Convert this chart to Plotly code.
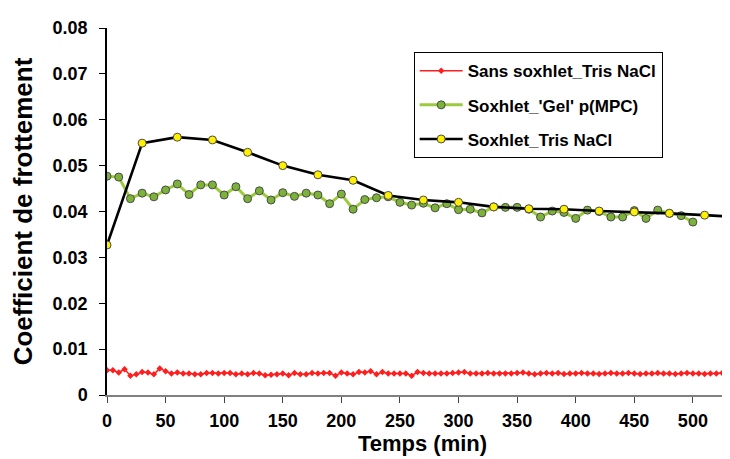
import plotly.graph_objects as go

# ---------------- data ----------------
# Sans soxhlet_Tris NaCl : every 5 min, 0..540
red_t = list(range(0, 545, 5))
red_v = [
    0.0054, 0.0054, 0.0049, 0.0056, 0.0042, 0.0045, 0.0050, 0.0049, 0.0045, 0.0058,  # 0-45
    0.0052, 0.0047, 0.0049, 0.0047, 0.0047, 0.00455, 0.00455, 0.0048, 0.0048, 0.0047,  # 50-95
    0.0048, 0.0048, 0.00455, 0.0047, 0.00455, 0.0048, 0.0047, 0.0043, 0.0044, 0.00455,  # 100-145
    0.0047, 0.0043, 0.0048, 0.00455, 0.00455, 0.0048, 0.0047, 0.0048, 0.0048, 0.0042,  # 150-195
    0.0049, 0.0047, 0.0045, 0.0050, 0.0049, 0.0052, 0.0045, 0.0050, 0.0047, 0.0047,  # 200-245
    0.0047, 0.0047, 0.0042, 0.0050, 0.0048, 0.0047, 0.0047, 0.0047, 0.0047, 0.0048,  # 250-295
    0.0049, 0.0050, 0.0047, 0.0047, 0.0047, 0.0048, 0.0047, 0.0047, 0.0047, 0.0047,  # 300-345
    0.0048, 0.0049, 0.0047, 0.00455, 0.0047, 0.0048, 0.0047, 0.0048, 0.0046, 0.0047,  # 350-395
    0.0047, 0.0048, 0.0047, 0.0047, 0.0046, 0.0047, 0.0048, 0.0047, 0.0047, 0.0048,  # 400-445
    0.0047, 0.0046, 0.0047, 0.0047, 0.0048, 0.0047, 0.0047, 0.0046, 0.0047, 0.0048,  # 450-495
    0.0047, 0.0047, 0.0046, 0.0047, 0.0047, 0.0048, 0.0047, 0.0046, 0.0047, 0.0047,  # 500-545
][:len(red_t)]

# Soxhlet_'Gel' p(MPC) : every 10 min, 0..500
green_t = list(range(0, 510, 10))
green_v = [
    0.0477, 0.0475, 0.0428, 0.0440, 0.0432, 0.0447, 0.0460, 0.0437, 0.0458, 0.0458,  # 0-90
    0.0436, 0.0454, 0.0428, 0.0445, 0.0425, 0.0441, 0.0433, 0.0440, 0.0436, 0.0417,  # 100-190
    0.0438, 0.0405, 0.0426, 0.0430, 0.0432, 0.0420, 0.0414, 0.0418, 0.0408, 0.0417,  # 200-290
    0.0404, 0.0405, 0.0397, 0.0410, 0.0409, 0.0409, 0.0405, 0.0388, 0.0401, 0.0398,  # 300-390
    0.0385, 0.0403, 0.0400, 0.0388, 0.0388, 0.0402, 0.0385, 0.0403, 0.0396, 0.0391,  # 400-490
    0.0377,                                                                          # 500
]

# Soxhlet_Tris NaCl : every 30 min, 0..540
yellow_t = list(range(0, 570, 30))
yellow_v = [
    0.0327, 0.0549, 0.0562, 0.0556, 0.0529, 0.0500, 0.0480, 0.0468, 0.0435, 0.0425,
    0.0420, 0.0410, 0.0406, 0.0405, 0.0401, 0.0399, 0.0396, 0.0392, 0.0388,
]

x_ticks = [0, 50, 100, 150, 200, 250, 300, 350, 400, 450, 500]
y_ticks = [0, 0.01, 0.02, 0.03, 0.04, 0.05, 0.06, 0.07, 0.08]
y_tick_text = ["0", "0.01", "0.02", "0.03", "0.04", "0.05", "0.06", "0.07", "0.08"]

names = ["Sans soxhlet_Tris NaCl", "Soxhlet_'Gel' p(MPC)", "Soxhlet_Tris NaCl"]

FONT = "Arial, Liberation Sans, sans-serif"

fig = go.Figure()
fig.add_trace(go.Scatter(
    x=red_t, y=red_v, name=names[0], mode="lines+markers", legendgroup="a",
    line=dict(color="#FF1E1E", width=1.5),
    marker=dict(symbol="diamond", size=5, color="#FF1E1E"),
))
fig.add_trace(go.Scatter(
    x=green_t, y=green_v, name=names[1], mode="lines+markers", legendgroup="b",
    line=dict(color="#9BCB3C", width=3),
    marker=dict(symbol="circle", size=8, color="#7DB23A", line=dict(color="#4A4A4A", width=1)),
))
fig.add_trace(go.Scatter(
    x=yellow_t, y=yellow_v, name=names[2], mode="lines+markers", legendgroup="c",
    line=dict(color="#000000", width=2.6),
    marker=dict(symbol="circle", size=8, color="#FFEF00", line=dict(color="#4A4A4A", width=1)),
))

fig.update_layout(
    width=730, height=459,
    margin=dict(l=99, r=0, t=20, b=71.5),
    paper_bgcolor="white", plot_bgcolor="white",
    font=dict(family=FONT, color="black"),
    showlegend=True,
    legend=dict(
        x=0.486, y=0.934, xanchor="left", yanchor="top",
        bgcolor="white", bordercolor="black", borderwidth=1,
        font=dict(family=FONT, size=17, weight="bold", color="black"),
        itemwidth=43, traceorder="grouped", tracegroupgap=9,
    ),
)
fig.update_xaxes(
    range=[0, 538.5], tickvals=x_ticks, ticks="outside", ticklen=6, tickcolor="#444",
    showline=True, linecolor="#808080", linewidth=1.5, showgrid=False, zeroline=False,
    tickfont=dict(family=FONT, size=18, weight="bold"), ticklabelstandoff=3,
    title=dict(text="Temps (min)", font=dict(family=FONT, size=22, weight="bold"), standoff=5),
)
fig.update_yaxes(
    range=[0, 0.08], tickvals=y_ticks, ticktext=y_tick_text, ticks="outside", ticklen=6,
    tickcolor="black", showline=True, linecolor="black", linewidth=1.5,
    showgrid=False, zeroline=False,
    tickfont=dict(family=FONT, size=18, weight="bold"), ticklabelstandoff=8,
    title=dict(text="Coefficient de frottement", font=dict(family=FONT, size=26, weight="bold"), standoff=13),
)

fig.write_html("out.html")
